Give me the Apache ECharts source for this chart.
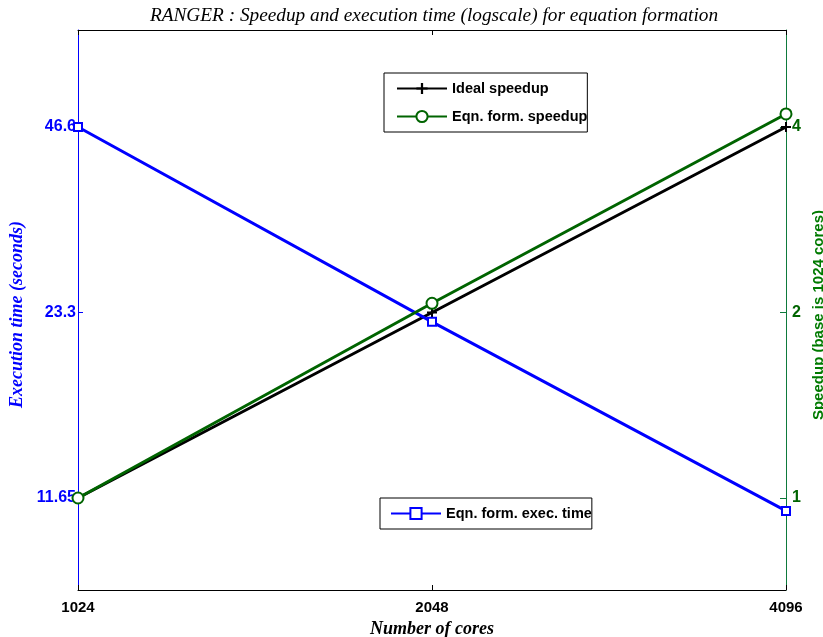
<!DOCTYPE html>
<html>
<head>
<meta charset="utf-8">
<script src="https://cdn.jsdelivr.net/npm/echarts@6/dist/echarts.min.js"></script>
<style>
  html, body { margin: 0; padding: 0; background: #fff; overflow: hidden; }
  #chart { width: 823px; height: 637px; }
</style>
</head>
<body>
<div id="chart"></div>
<script>
// Core counts on the x axis
const cores = ['1024', '2048', '4096'];
// Execution time of equation formation (seconds)
const execTime = [46.6, 22.5, 11.1];
// Measured speedup relative to 1024 cores
const eqnSpeedup = [1, 2.07, 4.2];
// Ideal (linear) speedup
const idealSpeedup = [1, 2, 4];
// Tick values for the two log axes
const timeTicks = [11.65, 23.3, 46.6];
const timeTickLabels = ['11.65', '23.3', '46.6'];
const speedTicks = [1, 2, 4];
const speedTickLabels = ['1', '2', '4'];

const SANS = 'Liberation Sans, Arial, sans-serif';
const SERIF = 'Liberation Serif, Times New Roman, serif';
const BLUE = '#0000ff';
const GREEN = '#006400';
const NAME_GREEN = '#007a00';
const RIGHT_AXIS = '#0e7a3c';

function nearestLabel(v, ticks, labels) {
  let best = 0;
  for (let i = 1; i < ticks.length; i++) {
    if (Math.abs(Math.log(v / ticks[i])) < Math.abs(Math.log(v / ticks[best]))) best = i;
  }
  return labels[best];
}

const plus = 'path://M4,0h2v4h4v2h-4v4h-2v-4h-4v-2h4z';

const chart = echarts.init(document.getElementById('chart'), null, { renderer: 'canvas' });
chart.setOption({
  backgroundColor: '#fff',
  animation: false,
  title: {
    text: 'RANGER : Speedup and execution time (logscale) for equation formation',
    left: 429,
    top: 1,
    textAlign: 'center',
    textStyle: { fontFamily: SERIF, fontStyle: 'italic', fontWeight: 'normal', fontSize: 19.3, color: '#000' }
  },
  grid: { left: 78, right: 37, top: 30, bottom: 47, containLabel: false, outerBoundsMode: 'none' },
  legend: [
    {
      data: ['Ideal speedup', 'Eqn. form. speedup'],
      orient: 'vertical',
      left: 384, top: 73,
      padding: [8, 0, 8, 12],
      itemGap: 13,
      itemWidth: 50, itemHeight: 14,
      borderColor: '#000', borderWidth: 1,
      backgroundColor: '#fff',
      textStyle: { fontFamily: SANS, fontWeight: 'bold', fontSize: 14.5, color: '#000' }
    },
    {
      data: ['Eqn. form. exec. time'],
      orient: 'vertical',
      left: 380, top: 498,
      padding: [8, 0, 8, 10],
      itemWidth: 50, itemHeight: 14,
      borderColor: '#000', borderWidth: 1,
      backgroundColor: '#fff',
      textStyle: { fontFamily: SANS, fontWeight: 'bold', fontSize: 14.5, color: '#000' }
    }
  ],
  xAxis: [
    {
      type: 'category',
      data: cores,
      boundaryGap: false,
      position: 'bottom',
      name: 'Number of cores',
      nameLocation: 'middle',
      nameGap: 29,
      nameTextStyle: { fontFamily: SERIF, fontStyle: 'italic', fontWeight: 'bold', fontSize: 18, color: '#000' },
      axisLine: { lineStyle: { color: '#000', width: 1 } },
      axisTick: { inside: true, length: 5, lineStyle: { color: '#000' } },
      axisLabel: { fontFamily: SANS, fontWeight: 'bold', fontSize: 15, color: '#000', margin: 10 },
      splitLine: { show: false }
    },
    {
      type: 'category',
      data: cores,
      boundaryGap: false,
      position: 'top',
      axisLine: { lineStyle: { color: '#000', width: 1 } },
      axisTick: { inside: true, length: 5, lineStyle: { color: '#000' } },
      axisLabel: { show: false },
      splitLine: { show: false }
    }
  ],
  yAxis: [
    {
      type: 'log',
      logBase: 2,
      min: 8.26,
      max: 66.96,
      position: 'left',
      name: 'Execution time (seconds)',
      nameLocation: 'middle',
      nameRotate: 90,
      nameGap: 50,
      nameTextStyle: { fontFamily: SERIF, fontStyle: 'italic', fontWeight: 'bold', fontSize: 18, color: BLUE, padding: [0, 9, 0, 0] },
      axisLine: { show: true, lineStyle: { color: BLUE, width: 1 } },
      axisTick: { show: true, inside: true, length: 5, customValues: timeTicks, lineStyle: { color: BLUE } },
      axisLabel: {
        customValues: timeTicks,
        fontFamily: SANS, fontWeight: 'bold', fontSize: 16, color: BLUE, margin: 2,
        formatter: v => nearestLabel(v, timeTicks, timeTickLabels)
      },
      splitLine: { show: false }
    },
    {
      type: 'log',
      logBase: 2,
      min: 0.709,
      max: 5.748,
      position: 'right',
      name: 'Speedup (base is 1024 cores)',
      nameLocation: 'middle',
      nameRotate: 90,
      nameGap: 21,
      nameTextStyle: { fontFamily: SANS, fontWeight: 'bold', fontSize: 15, color: NAME_GREEN, padding: [0, 10, 0, 0] },
      axisLine: { show: true, lineStyle: { color: RIGHT_AXIS, width: 1 } },
      axisTick: { show: true, inside: true, length: 6, customValues: speedTicks, lineStyle: { color: RIGHT_AXIS } },
      axisLabel: {
        customValues: speedTicks,
        fontFamily: SANS, fontWeight: 'bold', fontSize: 16, color: GREEN, margin: 6,
        formatter: v => nearestLabel(v, speedTicks, speedTickLabels)
      },
      splitLine: { show: false }
    }
  ],
  series: [
    {
      name: 'Eqn. form. exec. time',
      type: 'line',
      yAxisIndex: 0,
      data: execTime,
      symbol: 'emptyRect',
      symbolSize: 8,
      lineStyle: { color: BLUE, width: 3 },
      itemStyle: { color: BLUE, borderColor: BLUE, borderWidth: 3 },
      z: 3
    },
    {
      name: 'Ideal speedup',
      type: 'line',
      yAxisIndex: 1,
      data: idealSpeedup,
      symbol: plus,
      symbolSize: 10,
      lineStyle: { color: '#000', width: 3 },
      itemStyle: { color: '#000' },
      z: 2
    },
    {
      name: 'Eqn. form. speedup',
      type: 'line',
      yAxisIndex: 1,
      data: eqnSpeedup,
      symbol: 'emptyCircle',
      symbolSize: 11,
      lineStyle: { color: GREEN, width: 3 },
      itemStyle: { color: GREEN, borderColor: GREEN, borderWidth: 2.5 },
      z: 4
    }
  ]
});
</script>
</body>
</html>
